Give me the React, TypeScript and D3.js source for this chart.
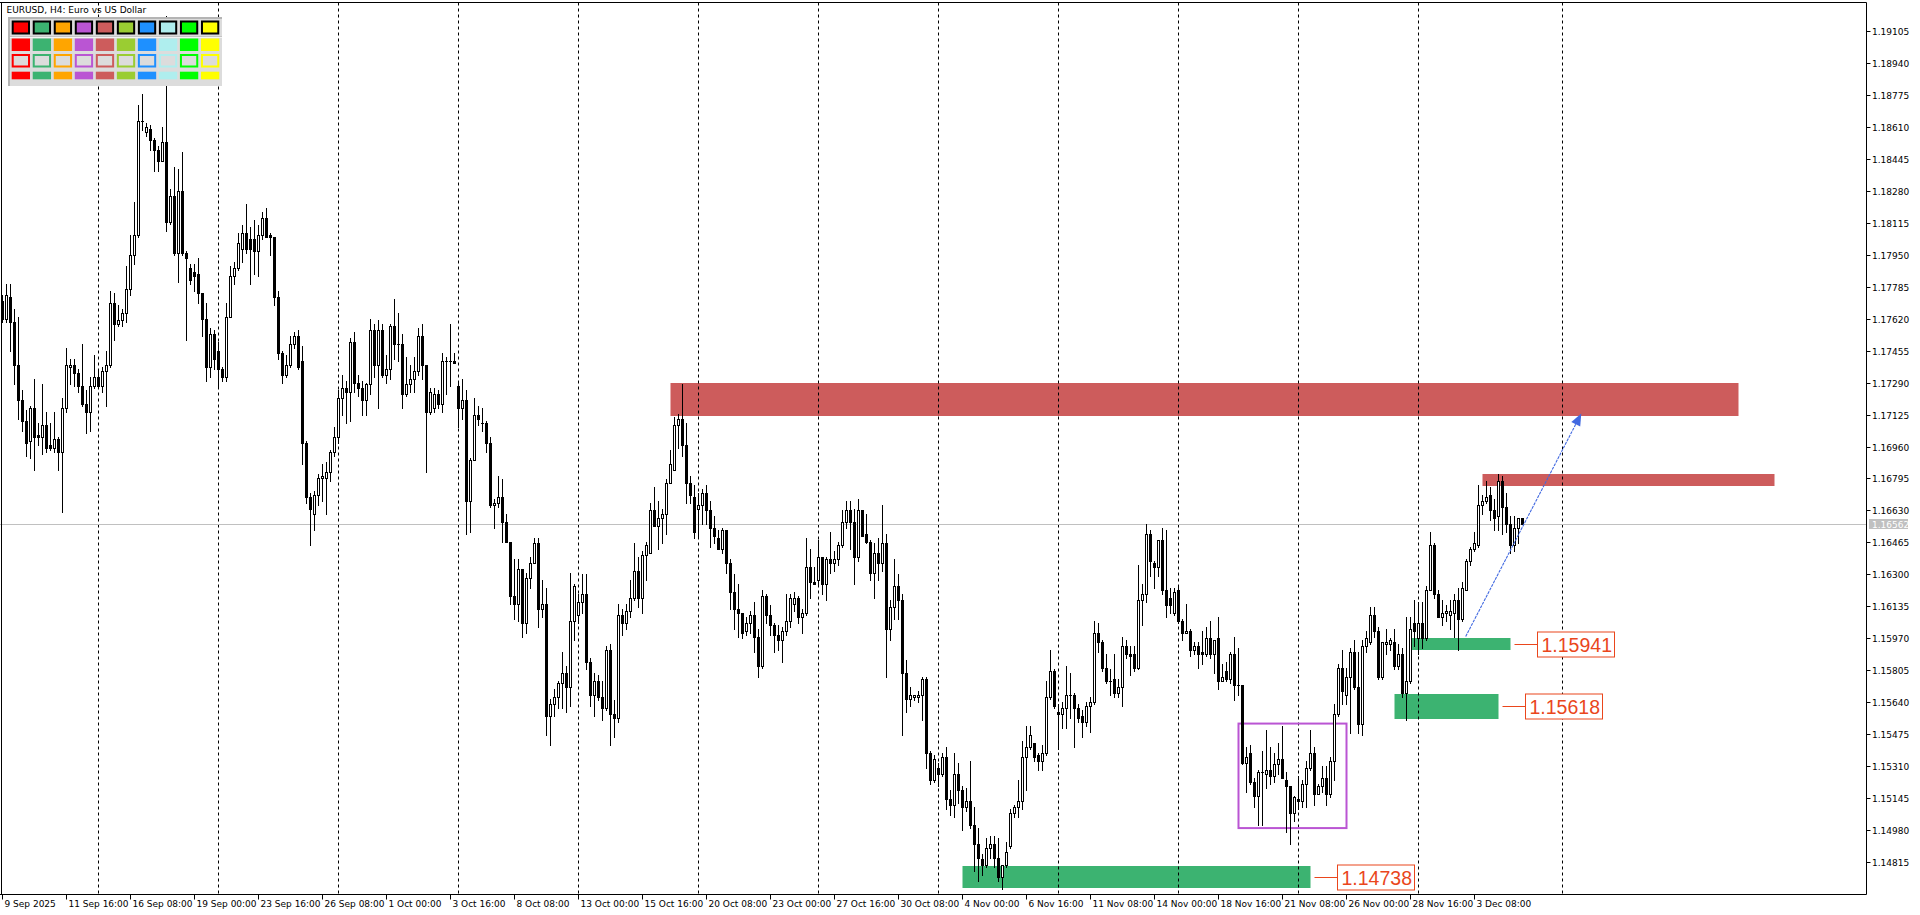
import React from "react";
import * as d3 from "d3";

// EURUSD H4 candles, values in pips (1 pip = 0.0001), bar 0 = 9 Sep 2025 00:00
const PIP = 0.0001;

const opens = [
  11771,11762,11773,11760,11738,11720,11709,11699,11716,11702,
  11701,11707,11697,11695,11700,11693,11716,11737,11738,11734,
  11727,11718,11714,11727,11732,11727,11735,11738,11770,11759,
  11761,11765,11777,11795,11805,11864,11858,11860,11854,11849,
  11843,11853,11812,11825,11796,11828,11796,11788,11786,11785,
  11775,11762,11737,11754,11745,11736,11732,11763,11784,11788,
  11798,11806,11803,11803,11797,11805,11814,11805,11804,11773,
  11744,11733,11738,11749,11753,11740,11698,11670,11661,11671,
  11680,11680,11683,11693,11701,11721,11726,11724,11750,11729,
  11726,11720,11728,11756,11738,11756,11733,11736,11758,11749,
  11749,11723,11728,11731,11735,11753,11738,11714,11716,11723,
  11718,11740,11740,11740,11727,11716,11720,11668,11689,11712,
  11708,11708,11698,11666,11667,11670,11657,11647,11619,11615,
  11633,11605,11628,11636,11646,11612,11615,11557,11563,11567,
  11574,11579,11572,11606,11609,11616,11620,11585,11568,11575,
  11567,11561,11591,11558,11556,11609,11605,11611,11618,11632,
  11618,11640,11641,11663,11655,11659,11661,11677,11684,11707,
  11710,11697,11677,11670,11664,11666,11672,11663,11654,11649,
  11643,11653,11636,11621,11612,11610,11601,11605,11609,11598,
  11583,11619,11609,11604,11599,11596,11601,11606,11615,11618,
  11608,11610,11634,11626,11627,11639,11625,11638,11636,11638,
  11645,11657,11663,11657,11639,11663,11651,11647,11631,11641,
  11636,11646,11602,11613,11624,11617,11579,11566,11567,11567,
  11568,11576,11538,11524,11530,11527,11536,11514,11511,11527,
  11519,11510,11513,11501,11491,11483,11480,11489,11491,11484,
  11474,11480,11490,11507,11510,11513,11536,11541,11543,11537,
  11534,11538,11567,11580,11559,11558,11561,11568,11568,11561,
  11557,11554,11562,11564,11600,11595,11582,11575,11576,11569,
  11572,11593,11589,11589,11582,11617,11620,11651,11636,11634,
  11648,11622,11618,11610,11622,11606,11600,11601,11591,11593,
  11590,11589,11597,11589,11597,11575,11580,11576,11589,11573,
  11573,11533,11538,11523,11516,11528,11527,11529,11526,11532,
  11535,11524,11521,11507,11514,11513,11522,11530,11538,11517,
  11521,11525,11517,11534,11558,11582,11568,11577,11590,11572,
  11553,11593,11595,11609,11601,11577,11594,11594,11595,11583,
  11589,11569,11575,11605,11597,11605,11597,11622,11645,11620,
  11608,11610,11609,11610,11617,11607,11622,11637,11643,11645,
  11666,11668,11671,11663,11660,11678,11665,11656,11645,11654,11659,
];

const highs = [
  11774,11780,11780,11767,11763,11725,11715,11717,11731,11708,
  11728,11714,11708,11714,11701,11721,11747,11741,11741,11736,
  11749,11725,11732,11743,11736,11737,11745,11776,11775,11769,
  11767,11789,11805,11822,11872,11878,11863,11862,11855,11851,
  11861,11918,11829,11840,11839,11848,11797,11790,11790,11793,
  11775,11770,11757,11756,11750,11737,11770,11789,11791,11806,
  11810,11821,11809,11813,11810,11817,11819,11806,11804,11776,
  11745,11743,11753,11755,11756,11748,11699,11672,11673,11682,
  11687,11688,11694,11706,11725,11733,11730,11752,11755,11733,
  11730,11729,11762,11759,11761,11759,11743,11759,11772,11765,
  11754,11742,11738,11742,11757,11759,11738,11726,11726,11725,
  11744,11742,11759,11744,11729,11731,11725,11690,11721,11717,
  11716,11709,11701,11669,11681,11679,11661,11647,11638,11638,
  11633,11631,11639,11649,11649,11627,11623,11566,11571,11575,
  11590,11583,11631,11625,11620,11630,11630,11587,11579,11578,
  11575,11593,11594,11565,11615,11612,11615,11627,11646,11639,
  11642,11647,11667,11675,11668,11664,11679,11694,11711,11713,
  11728,11708,11681,11676,11672,11674,11676,11668,11660,11653,
  11654,11653,11638,11630,11625,11610,11608,11611,11616,11602,
  11622,11620,11614,11605,11604,11603,11620,11620,11621,11619,
  11612,11649,11643,11634,11648,11639,11639,11652,11642,11647,
  11663,11668,11668,11664,11669,11663,11661,11648,11646,11649,
  11666,11651,11617,11638,11630,11620,11586,11572,11568,11570,
  11577,11577,11539,11537,11533,11538,11541,11519,11538,11533,
  11521,11520,11534,11510,11499,11486,11494,11495,11495,11494,
  11480,11492,11509,11511,11524,11544,11552,11552,11543,11538,
  11542,11575,11591,11581,11563,11564,11583,11579,11569,11563,
  11560,11564,11567,11606,11605,11596,11589,11581,11589,11576,
  11598,11596,11593,11593,11635,11625,11656,11653,11637,11648,
  11654,11653,11623,11623,11624,11607,11615,11602,11595,11595,
  11601,11603,11606,11596,11608,11584,11585,11590,11598,11592,
  11573,11541,11542,11525,11529,11539,11550,11541,11538,11543,
  11552,11528,11521,11516,11526,11524,11534,11550,11541,11522,
  11531,11531,11536,11563,11584,11591,11582,11592,11596,11590,
  11596,11601,11613,11613,11603,11595,11602,11597,11602,11594,
  11592,11608,11608,11617,11616,11616,11624,11652,11646,11622,
  11617,11614,11617,11620,11623,11626,11638,11644,11652,11676,
  11671,11678,11675,11669,11682,11681,11672,11660,11660,11659,11659,
];

const lows = [
  11760,11760,11745,11728,11710,11704,11691,11690,11684,11697,
  11692,11693,11694,11693,11684,11662,11714,11728,11727,11724,
  11717,11703,11704,11726,11726,11724,11717,11737,11751,11758,
  11758,11760,11774,11790,11804,11859,11856,11849,11838,11838,
  11843,11807,11811,11795,11781,11795,11751,11780,11776,11770,
  11753,11730,11732,11736,11727,11730,11730,11763,11780,11787,
  11791,11796,11780,11785,11784,11803,11804,11795,11769,11741,
  11729,11732,11737,11747,11736,11687,11667,11645,11653,11666,
  11668,11661,11678,11691,11698,11712,11708,11709,11724,11722,
  11712,11712,11723,11732,11716,11732,11729,11731,11741,11740,
  11716,11722,11724,11724,11733,11731,11683,11713,11714,11716,
  11714,11723,11727,11739,11706,11710,11651,11652,11689,11707,
  11704,11693,11665,11654,11665,11647,11647,11615,11607,11606,
  11598,11600,11623,11636,11603,11608,11547,11542,11557,11561,
  11561,11559,11562,11596,11605,11610,11581,11562,11557,11565,
  11555,11560,11542,11546,11554,11599,11602,11608,11617,11613,
  11610,11627,11641,11655,11643,11646,11651,11677,11684,11695,
  11691,11667,11667,11649,11650,11656,11656,11644,11646,11643,
  11641,11631,11612,11602,11598,11597,11599,11600,11590,11577,
  11582,11605,11599,11590,11591,11585,11599,11603,11611,11605,
  11600,11609,11618,11625,11625,11620,11617,11631,11632,11635,
  11644,11654,11643,11625,11637,11650,11646,11627,11618,11627,
  11632,11577,11596,11607,11607,11547,11559,11562,11565,11564,
  11555,11530,11522,11523,11521,11526,11509,11506,11505,11512,
  11498,11508,11499,11477,11472,11475,11479,11484,11479,11472,
  11468,11479,11489,11505,11505,11509,11519,11540,11534,11529,
  11529,11537,11566,11561,11540,11551,11551,11556,11541,11554,
  11546,11552,11549,11563,11590,11580,11574,11568,11567,11567,
  11562,11587,11578,11580,11581,11604,11616,11629,11623,11629,
  11620,11608,11610,11609,11605,11596,11600,11588,11589,11582,
  11584,11588,11587,11579,11571,11575,11575,11574,11565,11568,
  11532,11518,11522,11510,11501,11501,11520,11522,11523,11527,
  11525,11497,11491,11503,11509,11510,11510,11529,11511,11517,
  11518,11511,11515,11524,11557,11563,11563,11548,11571,11548,
  11547,11590,11594,11598,11576,11576,11589,11591,11581,11581,
  11567,11555,11574,11593,11589,11592,11596,11622,11618,11608,
  11604,11606,11602,11598,11591,11606,11622,11635,11642,11644,
  11661,11667,11658,11653,11653,11651,11652,11641,11642,11646,11656,
];

const closes = [
  11762,11774,11760,11738,11720,11709,11698,11716,11701,11701,
  11707,11695,11695,11700,11693,11716,11738,11738,11734,11727,
  11718,11714,11727,11732,11727,11735,11738,11770,11759,11761,
  11765,11777,11795,11805,11864,11864,11861,11854,11849,11843,
  11853,11812,11825,11796,11828,11796,11793,11782,11784,11775,
  11762,11737,11754,11741,11736,11732,11763,11784,11788,11801,
  11806,11798,11798,11797,11805,11814,11804,11804,11773,11744,
  11733,11738,11749,11753,11737,11698,11670,11664,11671,11680,
  11681,11683,11693,11701,11721,11726,11724,11750,11729,11726,
  11720,11728,11756,11738,11756,11733,11736,11758,11749,11749,
  11723,11728,11731,11735,11753,11738,11714,11724,11723,11718,
  11740,11740,11740,11739,11716,11720,11668,11689,11712,11710,
  11708,11698,11666,11667,11670,11657,11647,11619,11615,11633,
  11605,11628,11636,11646,11612,11615,11557,11563,11567,11574,
  11579,11572,11606,11624,11616,11620,11585,11568,11575,11567,
  11561,11591,11558,11556,11609,11605,11611,11618,11632,11618,
  11640,11645,11663,11655,11659,11661,11677,11687,11707,11710,
  11697,11677,11671,11652,11666,11672,11663,11654,11650,11643,
  11653,11636,11621,11612,11610,11600,11605,11609,11598,11583,
  11619,11609,11604,11599,11596,11601,11606,11618,11618,11608,
  11610,11634,11626,11625,11639,11625,11638,11636,11638,11645,
  11657,11663,11657,11639,11663,11650,11647,11631,11641,11636,
  11646,11602,11613,11624,11617,11579,11566,11568,11568,11568,
  11576,11538,11524,11535,11527,11536,11514,11511,11527,11519,
  11510,11513,11501,11491,11484,11480,11489,11491,11484,11474,
  11480,11487,11507,11510,11513,11536,11541,11547,11536,11534,
  11538,11567,11580,11562,11558,11561,11568,11568,11561,11556,
  11554,11562,11564,11600,11595,11582,11575,11575,11569,11572,
  11593,11589,11588,11582,11617,11620,11651,11637,11634,11648,
  11622,11614,11614,11621,11606,11600,11601,11591,11593,11589,
  11589,11597,11589,11596,11575,11577,11576,11589,11573,11573,
  11533,11536,11523,11516,11528,11528,11529,11526,11532,11535,
  11525,11521,11507,11515,11513,11522,11530,11538,11517,11521,
  11525,11517,11534,11558,11582,11570,11577,11590,11572,11553,
  11593,11597,11609,11601,11577,11595,11595,11596,11583,11589,
  11569,11575,11602,11601,11605,11597,11622,11645,11620,11608,
  11610,11611,11611,11617,11607,11623,11637,11643,11646,11666,
  11668,11670,11663,11659,11678,11665,11656,11645,11654,11659,11656,
];

// time axis: one label every 16 bars starting at bar 0
const TIME_LABEL_EVERY = 16;
const timeLabels = [
  "9 Sep 2025", "11 Sep 16:00", "16 Sep 08:00", "19 Sep 00:00", "23 Sep 16:00",
  "26 Sep 08:00", "1 Oct 00:00", "3 Oct 16:00", "8 Oct 08:00", "13 Oct 00:00",
  "15 Oct 16:00", "20 Oct 08:00", "23 Oct 00:00", "27 Oct 16:00", "30 Oct 08:00",
  "4 Nov 00:00", "6 Nov 16:00", "11 Nov 08:00", "14 Nov 00:00", "18 Nov 16:00",
  "21 Nov 08:00", "26 Nov 00:00", "28 Nov 16:00", "3 Dec 08:00",
];

// Monday 00:00 bars (weekly dashed grid)
const weekStartBars = [24, 54, 84, 114, 144, 174, 204, 234, 264, 294, 324, 354, 390];

const priceTickLabels = [
  "1.19105", "1.18940", "1.18775", "1.18610", "1.18445", "1.18280", "1.18115",
  "1.17950", "1.17785", "1.17620", "1.17455", "1.17290", "1.17125", "1.16960",
  "1.16795", "1.16630", "1.16465", "1.16300", "1.16135", "1.15970", "1.15805",
  "1.15640", "1.15475", "1.15310", "1.15145", "1.14980", "1.14815",
];

const bidPrice = 1.16562;

const supplyZones = [
  { fromBar: 167, toBar: 434, top: 1.17288, bottom: 1.17118 },
  { fromBar: 370, toBar: 443, top: 1.16817, bottom: 1.16755 },
];

const demandZones = [
  { fromBar: 240, toBar: 327, top: 1.14794, bottom: 1.14682, label: "1.14738" },
  { fromBar: 352, toBar: 377, top: 1.15971, bottom: 1.1591, label: "1.15941" },
  { fromBar: 348, toBar: 374, top: 1.15685, bottom: 1.15554, label: "1.15618" },
];

const rangeBox = { fromBar: 309, toBar: 336, top: 1.15531, bottom: 1.14992 };

const targetArrow = { fromBar: 365.8, fromPrice: 1.1598, toBar: 394.7, toPrice: 1.1713 };

const paletteColors = [
  "#FF0000", "#3CB371", "#FFA500", "#BA55D3", "#CD5C5C",
  "#9ACD32", "#1E90FF", "#AFEEEE", "#00FF00", "#FFFF00",
];

const title = "EURUSD, H4:  Euro vs US Dollar";

export default function App() {
  const W = 1920;
  const H = 915;
  const axisX = 1866.5;
  const axisY = 894.5;
  const frameTop = 2.5;
  const frameLeft = 1.5;

  const xScale = d3.scaleLinear().domain([0, 380]).range([2.5, 1522.5]);
  const yScale = d3.scaleLinear().domain([1.14815, 1.19105]).range([862.4, 30.6]);
  const yr = (p: number) => Math.round(yScale(p));

  const candles = opens.map((o, i) => {
    const op = o * PIP;
    const cl = closes[i] * PIP;
    const hi = Math.max(highs[i], o, closes[i]) * PIP;
    const lo = Math.min(lows[i], o, closes[i]) * PIP;
    return { i, op, cl, hi, lo };
  });

  const axisFont = "'DejaVu Sans', sans-serif";
  const labelColor = "#ea461c";

  // arrow geometry
  const ax1 = xScale(targetArrow.fromBar);
  const ay1 = yScale(targetArrow.fromPrice);
  const ax2 = xScale(targetArrow.toBar);
  const ay2 = yScale(targetArrow.toPrice);
  const ang = Math.atan2(ay2 - ay1, ax2 - ax1);
  const headLen = 12;
  const headW = 5;
  const bx = ax2 - headLen * Math.cos(ang);
  const by = ay2 - headLen * Math.sin(ang);
  const px = -Math.sin(ang);
  const py = Math.cos(ang);
  const headPts = `${ax2},${ay2} ${bx + headW * px},${by + headW * py} ${bx - headW * px},${by - headW * py}`;

  const bidY = yr(bidPrice) + 0.5;

  return (
    <div style={{ width: W, height: H, overflow: "hidden" }}>
      <style>{`body{margin:0;padding:0;overflow:hidden;background:#fff}`}</style>
      <svg width={W} height={H} viewBox={`0 0 ${W} ${H}`} style={{ display: "block", background: "#fff" }}>
        <rect x={0} y={0} width={W} height={H} fill="#ffffff" />

        {/* zones (background objects) */}
        {supplyZones.map((z, k) => (
          <rect
            key={"s" + k}
            x={xScale(z.fromBar)}
            y={yr(z.top)}
            width={xScale(z.toBar) - xScale(z.fromBar)}
            height={yr(z.bottom) - yr(z.top)}
            fill="#CD5C5C"
          />
        ))}
        {demandZones.map((z, k) => (
          <rect
            key={"d" + k}
            x={xScale(z.fromBar)}
            y={yr(z.top)}
            width={xScale(z.toBar) - xScale(z.fromBar)}
            height={yr(z.bottom) - yr(z.top)}
            fill="#3CB371"
          />
        ))}

        {/* weekly dashed grid */}
        {weekStartBars.map((b) => (
          <line
            key={"g" + b}
            x1={xScale(b)}
            x2={xScale(b)}
            y1={frameTop}
            y2={axisY}
            stroke="#000"
            strokeWidth={1}
            strokeDasharray="3,3"
          />
        ))}

        {/* bid line */}
        <line x1={0} x2={axisX} y1={bidY} y2={bidY} stroke="#c0c0c0" strokeWidth={1} />

        {/* range box */}
        <rect
          x={xScale(rangeBox.fromBar)}
          y={yScale(rangeBox.top)}
          width={xScale(rangeBox.toBar) - xScale(rangeBox.fromBar)}
          height={yScale(rangeBox.bottom) - yScale(rangeBox.top)}
          fill="none"
          stroke="#BA55D3"
          strokeWidth={2}
        />

        {/* candles */}
        {candles.map((c) => {
          const cx = xScale(c.i);
          const yH = yr(c.hi);
          const yL = yr(c.lo);
          const bull = c.cl > c.op;
          const yTop = yr(Math.max(c.op, c.cl));
          const yBot = yr(Math.min(c.op, c.cl));
          return (
            <g key={c.i}>
              <line x1={cx} x2={cx} y1={yH} y2={yL + 1} stroke="#000" strokeWidth={1} />
              {bull && yBot - yTop >= 2 ? (
                <rect x={cx - 1} y={yTop + 0.5} width={2} height={yBot - yTop} fill="#fff" stroke="#000" strokeWidth={1} />
              ) : (
                <rect x={cx - 1.5} y={yTop} width={3} height={Math.max(1, yBot - yTop + 1)} fill="#000" />
              )}
            </g>
          );
        })}

        {/* target arrow */}
        <line x1={ax1} y1={ay1} x2={bx} y2={by} stroke="#4169E1" strokeWidth={1.1} strokeDasharray="3,1" />
        <polygon points={headPts} fill="#4169E1" />

        {/* zone price labels */}
        {demandZones.map((z, k) => {
          const right = xScale(z.toBar);
          const mid = Math.round(yScale((z.top + z.bottom) / 2)) + 0.5;
          const boxX = Math.round(right + 26) + 0.5;
          return (
            <g key={"l" + k}>
              <line x1={right + 4} x2={boxX} y1={mid} y2={mid} stroke={labelColor} strokeWidth={1} />
              <rect x={boxX} y={mid - 12.5} width={77} height={25} fill="#fff" stroke={labelColor} strokeWidth={1} />
              <text
                x={boxX + 4}
                y={mid + 7.5}
                fontFamily="'Liberation Sans', Arial, sans-serif"
                fontSize={19.5}
                fill={labelColor}
              >
                {z.label}
              </text>
            </g>
          );
        })}

        {/* frame */}
        <line x1={0} x2={axisX} y1={frameTop} y2={frameTop} stroke="#000" />
        <line x1={frameLeft} x2={frameLeft} y1={frameTop} y2={axisY} stroke="#000" />
        <line x1={axisX} x2={axisX} y1={frameTop} y2={axisY} stroke="#000" />
        <line x1={0} x2={axisX} y1={axisY} y2={axisY} stroke="#000" />

        {/* price axis */}
        {priceTickLabels.map((t) => {
          const yy = yr(parseFloat(t)) + 0.5;
          return (
            <g key={t}>
              <line x1={axisX} x2={axisX + 4} y1={yy} y2={yy} stroke="#000" />
              <text x={axisX + 5.5} y={yy + 3.5} fontFamily={axisFont} fontSize={9} fill="#000">
                {t}
              </text>
            </g>
          );
        })}
        <rect x={axisX + 2.5} y={bidY - 5.5} width={39} height={10} fill="#c0c0c0" />
        <text x={axisX + 5.5} y={bidY + 3.5} fontFamily={axisFont} fontSize={9} fill="#fff">
          {bidPrice.toFixed(5)}
        </text>

        {/* time axis */}
        {timeLabels.map((t, k) => {
          const xx = xScale(k * TIME_LABEL_EVERY);
          return (
            <g key={t}>
              <line x1={xx} x2={xx} y1={axisY} y2={axisY + 5} stroke="#000" />
              <text x={xx + 2} y={axisY + 12.5} fontFamily={axisFont} fontSize={9} fill="#000">
                {t}
              </text>
            </g>
          );
        })}

        {/* title */}
        <text x={6.5} y={12.5} fontFamily={axisFont} fontSize={9} fill="#000">
          {title}
        </text>

        {/* colour palette panel */}
        <g>
          <rect x={8} y={17} width={214} height={69} fill="#dcdcdc" />
          <line x1={8} x2={222} y1={18} y2={18} stroke="#b4b4b4" strokeWidth={2} />
          <line x1={9} x2={9} y1={17} y2={86} stroke="#b4b4b4" strokeWidth={2} />
          <line x1={10} x2={222} y1={36.5} y2={36.5} stroke="#c4c4c4" strokeWidth={1} />
          <line x1={10} x2={222} y1={37.5} y2={37.5} stroke="#f4f4f4" strokeWidth={1} />
          {paletteColors.map((col, k) => {
            const cx0 = 11.7 + k * 21.03;
            return (
              <g key={col}>
                <rect x={cx0 + 1} y={21.5} width={16.3} height={12} fill={col} stroke="#000" strokeWidth={2} />
                <rect x={cx0} y={38.5} width={18.3} height={12.5} fill={col} />
                <rect x={cx0 + 1} y={55} width={16.3} height={11.5} fill="#dcdcdc" stroke={col} strokeWidth={2} />
                <rect x={cx0} y={71.7} width={18.3} height={7.6} fill={col} />
              </g>
            );
          })}
        </g>
      </svg>
    </div>
  );
}
